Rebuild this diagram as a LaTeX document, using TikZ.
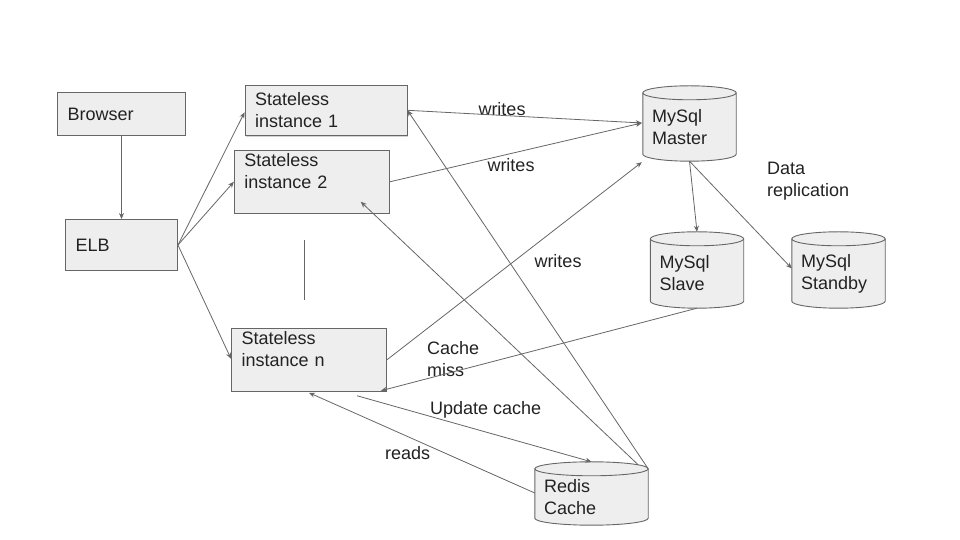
\documentclass[tikz,border=0pt]{standalone}
\usepackage{fontspec}
\setmainfont{Liberation Sans}
\usetikzlibrary{arrows.meta,positioning,shadows,backgrounds,calc}

\definecolor{boxfill}{HTML}{EEEEEE}
\definecolor{boxline}{HTML}{666666}
\definecolor{wire}{HTML}{666666}
\definecolor{ink}{HTML}{222222}

\tikzset{
  box/.style={rectangle, draw=boxline, fill=boxfill, line width=0.9pt,
    inner xsep=10pt, inner ysep=0pt, align=left, text=ink},
  db/.style={rectangle, inner xsep=9pt, inner ysep=0pt, align=left, text=ink},
  lbl/.style={inner sep=0pt, text=ink},
  wire/.style={draw=wire, line width=0.8pt, ->},
}

\begin{document}
\begin{tikzpicture}[x=1pt, y=1pt, font=\fontsize{18}{22}\selectfont,
  >={Stealth[length=6pt,width=5pt]}]
\useasboundingbox (0,0) rectangle (960,540);

% front end
\node [box, minimum width=128pt, minimum height=43pt, text width=108pt] (browser) at (121.5,426) {Browser};
\node [box, minimum width=112pt, minimum height=51pt, text width=92pt] (elb) at (121.5,295) {ELB};

% stateless instances
\node [box, minimum width=162pt, minimum height=50pt, text width=142pt,
  drop shadow={shadow xshift=1pt, shadow yshift=-2pt, opacity=0.35}] (inst1) at (326,429.7) {Stateless\\instance 1};
\node [box, minimum width=155pt, minimum height=63pt, text width=135pt] (inst2) at (311.8,358.2) {Stateless\\instance 2\\\mbox{}};
\node [box, minimum width=155pt, minimum height=63pt, text width=135pt] (instn) at (309,180.2) {Stateless\\instance n\\\mbox{}};
\coordinate (dotsA) at (304,300);
\coordinate (dotsB) at (304,240);
\draw [wire, -] (dotsA) -- (dotsB);

% databases
\node [db, minimum width=93pt, minimum height=68pt, text width=75pt] (master) at (689.5,413) {MySql\\Master};
\node [db, minimum width=93pt, minimum height=69pt, text width=75pt] (slave) at (697,266.5) {MySql\\Slave};
\node [db, minimum width=93pt, minimum height=69pt, text width=75pt] (standby) at (838.5,266.5) {MySql\\Standby};
\node [db, minimum width=113pt, minimum height=56pt, text width=95pt] (redis) at (591.5,43) {Redis\\Cache};

\begin{scope}[on background layer]
\foreach \dbn in {master,slave,standby,redis}{
  \filldraw [draw=boxline, fill=boxfill, line width=0.9pt]
    let \p1=(\dbn.north west), \p2=(\dbn.south east), \n1={(\x2-\x1)/2} in
    (\x1,\y1) -- (\x1,\y2+7pt) arc[start angle=180, end angle=360, x radius=\n1, y radius=7pt]
    -- (\x2,\y1) arc[start angle=0, end angle=180, x radius=\n1, y radius=7pt] -- cycle;
  \draw [draw=boxline, line width=0.9pt]
    let \p1=(\dbn.north west), \p2=(\dbn.south east), \n1={(\x2-\x1)/2} in
    (\x1,\y1) arc[start angle=180, end angle=360, x radius=\n1, y radius=7pt];
}
\end{scope}

% labels
\node [lbl] (writesA) at (502,431) {writes};
\node [lbl] (writesB) at (511,375) {writes};
\node [lbl] (writesC) at (558,279) {writes};
\node [lbl, anchor=west, align=left] (repl) at (767,359) {Data\\replication};
\node [lbl, anchor=west, align=left] (miss) at (427,181) {Cache\\miss};
\node [lbl, anchor=west] (update) at (430,130) {Update cache};
\node [lbl, anchor=west] (reads) at (385,87) {reads};

% connectors
\draw [wire] (browser) -- (elb);
\draw [wire] (elb.east) -- ([yshift=-2pt]inst1.west);
\draw [wire] (elb.east) -- (inst2.west);
\draw [wire] (elb.east) -- ([yshift=1pt]instn.west);
\draw [wire] (inst1.east) -- ([shift={(-1pt,4pt)}]master.west);
\draw [wire] (inst2.east) -- ([shift={(-1pt,4pt)}]master.west);
\draw [wire] (instn.east) -- ([shift={(-1pt,-1pt)}]master.south west);
\draw [wire] (master.south) -- ([yshift=7pt]slave.north);
\draw [wire] (master.south) -- ([yshift=5pt]standby.west);
\draw [wire] (slave.south) -- ([shift={(-6pt,1pt)}]instn.south east);
\draw [wire] (redis.north east) -- (inst1.east);
\draw [wire] ([shift={(-10pt,4pt)}]redis.north east) -- ([shift={(-29pt,12pt)}]inst2.south east);
\draw [wire] ([shift={(48pt,-4pt)}]instn.south) -- ([yshift=7pt]redis.north);
\draw [wire] ([yshift=4pt]redis.west) -- ([yshift=-1pt]instn.south);
\end{tikzpicture}
\end{document}
